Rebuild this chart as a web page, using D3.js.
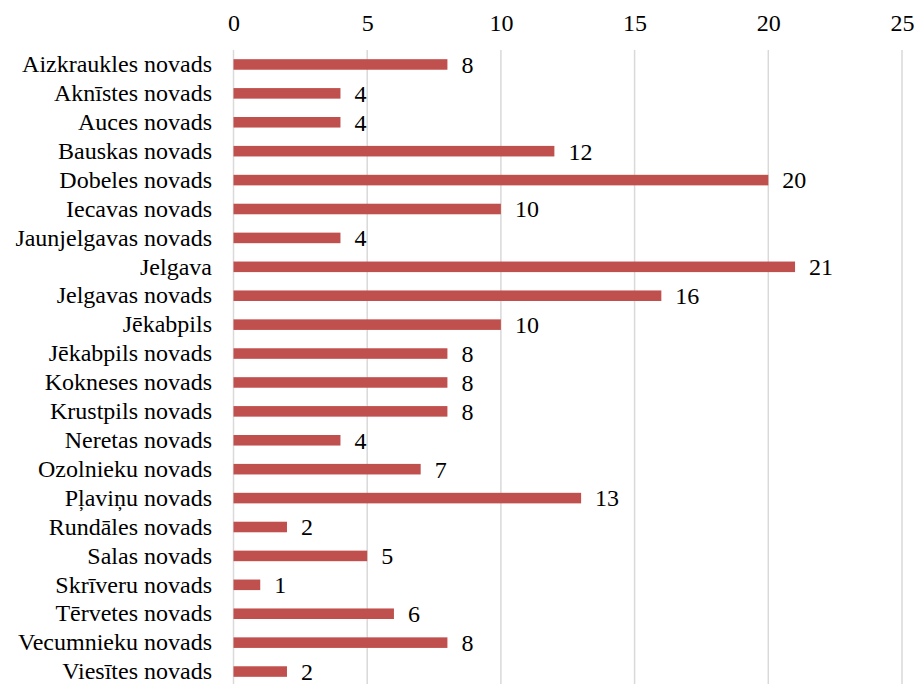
<!DOCTYPE html>
<html><head><meta charset="utf-8">
<script src="https://cdn.jsdelivr.net/npm/d3@7"></script>
<style>body{margin:0;background:#fff} svg text{font-family:"Liberation Serif","Times New Roman",Tinos,"DejaVu Serif",serif !important;}</style>
</head><body>
<script>
const categories = ["Aizkraukles novads","Aknīstes novads","Auces novads","Bauskas novads","Dobeles novads","Iecavas novads","Jaunjelgavas novads","Jelgava","Jelgavas novads","Jēkabpils","Jēkabpils novads","Kokneses novads","Krustpils novads","Neretas novads","Ozolnieku novads","Pļaviņu novads","Rundāles novads","Salas novads","Skrīveru novads","Tērvetes novads","Vecumnieku novads","Viesītes novads"];
const values = [8,4,4,12,20,10,4,21,16,10,8,8,8,4,7,13,2,5,1,6,8,2];
const ticks = [0,5,10,15,20,25];

const W = 917, H = 684;
const FS = 24;
const svg = d3.select("body").append("svg").attr("width", W).attr("height", H);

const x = d3.scaleLinear().domain([0,25]).range([233.5, 902]);
const y = d3.scaleBand().domain(categories).range([50, 686]).paddingInner(0.635).paddingOuter(0.3175);

svg.append("g").selectAll("line").data(ticks).join("line")
  .attr("x1", d => x(d)).attr("x2", d => x(d))
  .attr("y1", 50).attr("y2", H)
  .attr("stroke", "#d9d9d9").attr("stroke-width", 1.5);

const xAxis = d3.axisTop(x).tickValues(ticks).tickSize(0).tickPadding(0);
const gx = svg.append("g").attr("transform", "translate(0,31)").call(xAxis);
gx.select(".domain").remove();
gx.attr("font-family", null);
gx.selectAll("text").attr("font-size", FS).attr("fill", "#000");

const yAxis = d3.axisLeft(y).tickSize(0).tickPadding(0);
const gy = svg.append("g").attr("transform", "translate(212,0)").call(yAxis);
gy.select(".domain").remove();
gy.attr("font-family", null);
gy.selectAll("text").attr("font-size", FS).attr("fill", "#000");

svg.append("g").selectAll("rect").data(values).join("rect")
  .attr("x", x(0))
  .attr("y", (d,i) => y(categories[i]))
  .attr("width", d => x(d) - x(0))
  .attr("height", y.bandwidth())
  .attr("fill", "#C0504D");

svg.append("g").selectAll("text").data(values).join("text")
  .attr("x", d => x(d) + 14)
  .attr("y", (d,i) => y(categories[i]) + y.bandwidth()/2)
  .attr("dy", "0.35em")
  .attr("font-size", FS).attr("fill", "#000")
  .text(d => d);
</script>
</body></html>
